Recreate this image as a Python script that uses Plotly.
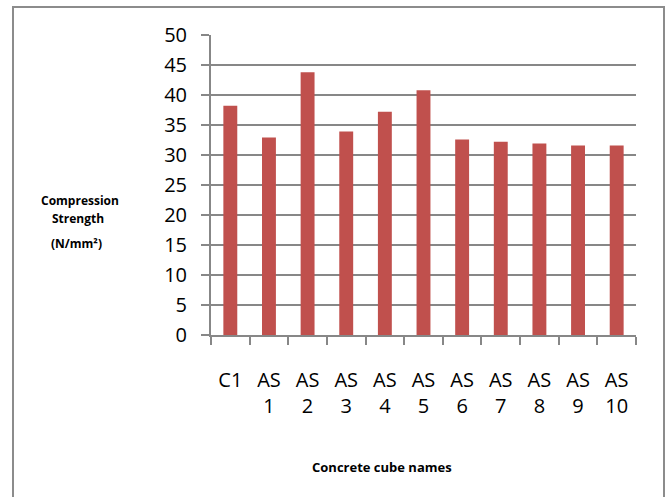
import plotly.graph_objects as go

# Cube names and measured compressive strength (N/mm²)
cube_names = ["C1", "AS<br>1", "AS<br>2", "AS<br>3", "AS<br>4", "AS<br>5",
              "AS<br>6", "AS<br>7", "AS<br>8", "AS<br>9", "AS<br>10"]
strength = [38.2, 32.9, 43.8, 33.9, 37.2, 40.8, 32.6, 32.2, 31.9, 31.6, 31.6]
y_ticks = list(range(0, 55, 5))

W, H = 669, 497
L, R, T, B = 211, 33, 35, 162
pw, ph = W - L - R, H - T - B


def px(x):
    return (x - L) / pw


def py(y):
    return (H - B - y) / ph


grey = "#878787"

fig = go.Figure(go.Bar(
    x=cube_names,
    y=strength,
    marker=dict(color="#C0504D", line=dict(width=0)),
))

fig.update_layout(
    width=W, height=H,
    margin=dict(l=L, r=R, t=T, b=B),
    paper_bgcolor="white", plot_bgcolor="white",
    bargap=0.64,
    showlegend=False,
    font=dict(family="Open Sans", color="black"),
)

fig.update_xaxes(
    type="category",
    tickson="boundaries",
    ticks="outside", ticklen=8, tickwidth=2, tickcolor=grey,
    showline=True, linecolor=grey, linewidth=2,
    showgrid=False, zeroline=False,
    tickfont=dict(size=20, family="Open Sans"),
    ticklabelstandoff=26,
    tickangle=0,
)

fig.update_yaxes(
    range=[0, 50],
    tickvals=y_ticks,
    ticks="outside", ticklen=8, tickwidth=2, tickcolor=grey,
    showline=True, linecolor=grey, linewidth=2,
    showgrid=True, gridcolor=grey, gridwidth=2,
    zeroline=False,
    tickfont=dict(size=20, family="Open Sans"),
    ticklabelstandoff=10,
)

# Outer frame of the chart area
fig.add_shape(type="rect", xref="paper", yref="paper",
              x0=px(13), x1=px(664), y0=py(510), y1=py(7),
              line=dict(color="#8c8c8c", width=2), layer="below")

# Axis titles
ann = dict(xref="paper", yref="paper", showarrow=False,
           xanchor="center", yanchor="middle")
fig.add_annotation(x=px(80), y=py(200), text="<b>Compression</b>",
                   font=dict(size=12, family="Open Sans"), **ann)
fig.add_annotation(x=px(78), y=py(218), text="<b>Strength</b>",
                   font=dict(size=12, family="Open Sans"), **ann)
fig.add_annotation(x=px(76), y=py(243), text="<b>(N/mm²)</b>",
                   font=dict(size=12, family="Open Sans"), **ann)
fig.add_annotation(x=px(382), y=py(467), text="<b>Concrete cube names</b>",
                   font=dict(size=13, family="Open Sans"), **ann)

fig.write_html("out.html")
